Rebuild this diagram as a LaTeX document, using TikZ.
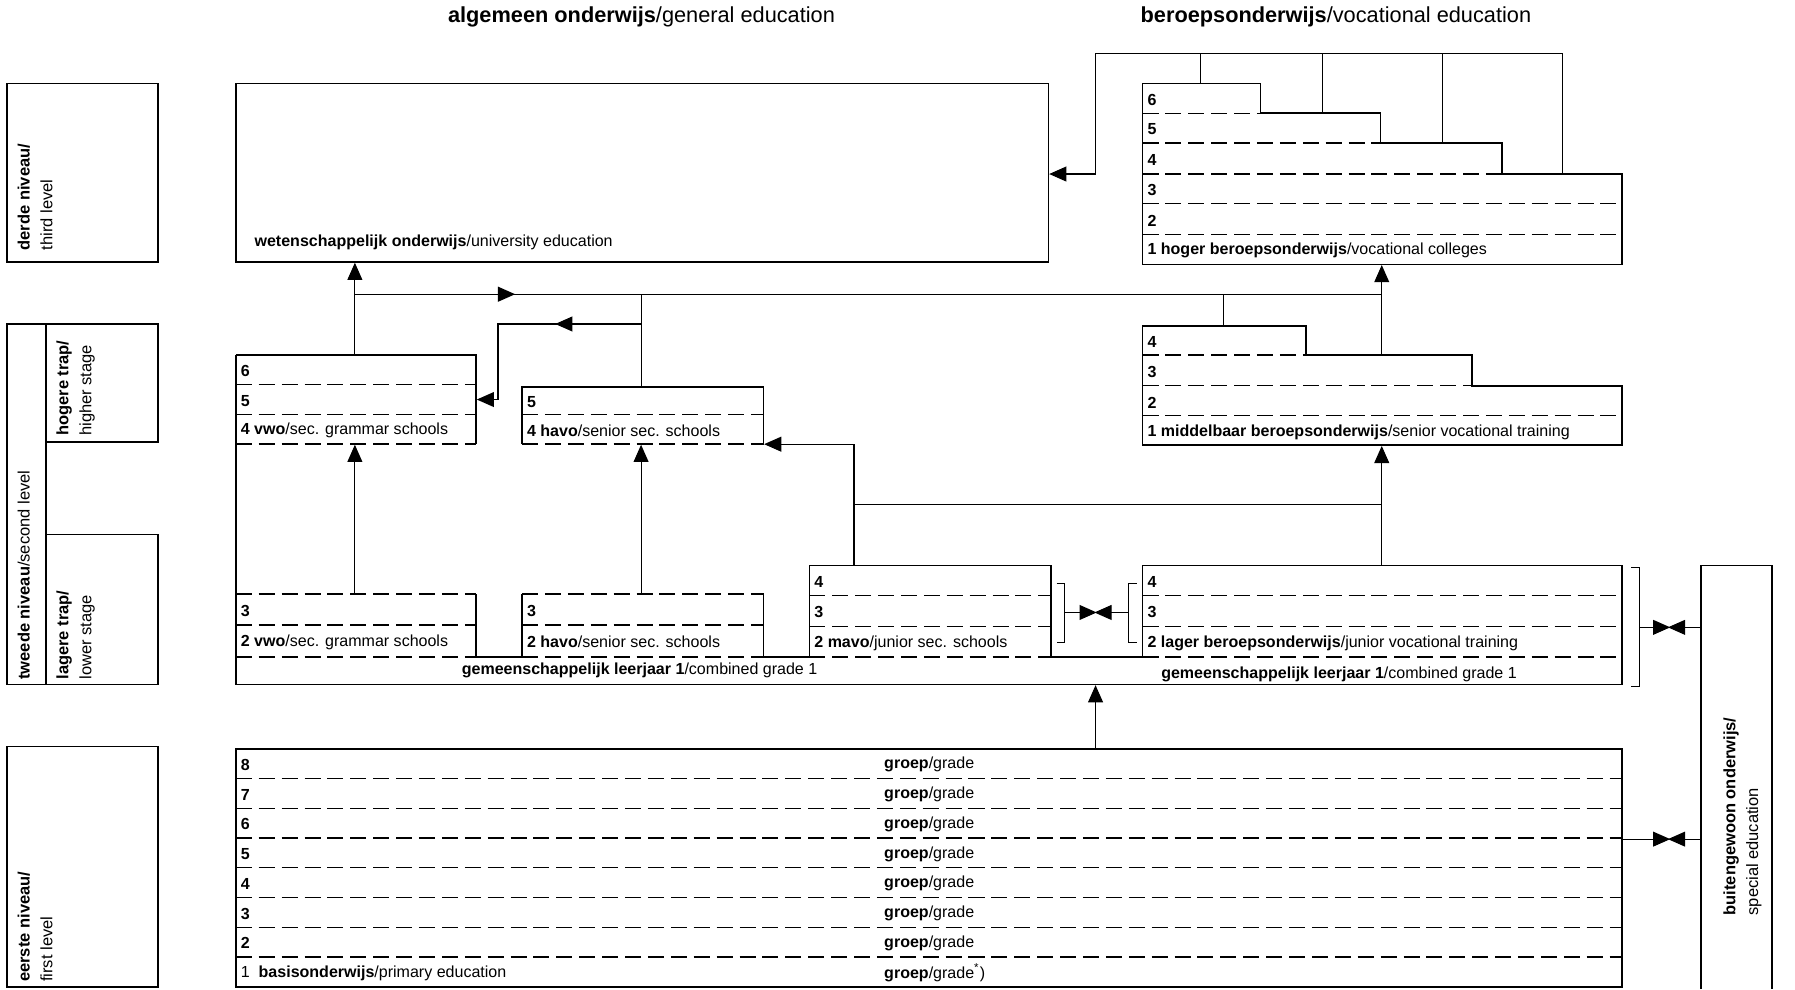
\documentclass[tikz,border=0pt]{standalone}
\usepackage{fontspec}
\setmainfont{Liberation Sans}
\usetikzlibrary{arrows.meta}
\begin{document}
\begin{tikzpicture}[x=0.5pt,y=-0.5pt,
  frame/.style={line width=0.75pt},
  dsh/.style={line width=0.6pt,dash pattern=on 7pt off 3pt},
  conn/.style={line width=0.5pt},
  arr/.style={conn,-{Triangle[length=7.5pt,width=6.5pt]}},
  lbl/.style={anchor=west,inner sep=0pt,font=\fontsize{7}{8}\selectfont},
  ttl/.style={anchor=west,inner sep=0pt,font=\fontsize{9.5}{11}\selectfont},
  rot/.style={rotate=90,anchor=north west,inner sep=0pt,align=left,font=\fontsize{7.2}{10}\selectfont}
]
\useasboundingbox (0,0) rectangle (1568,864);

% titles
\node[ttl] (t1) at (391,15) {\textbf{algemeen onderwijs}/general education};
\node[ttl] (t2) at (996,15) {\textbf{beroepsonderwijs}/vocational education};

% left column
\draw[frame] (6,73) rectangle (138,229);
\node[rot] (l3) at (15,219) {\textbf{derde niveau/}\\third level};
\draw[frame] (40,386) -- (138,386) -- (138,283) -- (6,283) -- (6,598) -- (138,598) -- (138,467) -- (40,467);
\draw[frame] (40,283) -- (40,598);
\node[rot] (l2) at (15,594) {\textbf{tweede niveau}/second level};
\node[rot] (l2a) at (49,381) {\textbf{hogere trap/}\\higher stage};
\node[rot] (l2b) at (49,594) {\textbf{lagere trap/}\\lower stage};
\draw[frame] (6,652) rectangle (138,862);
\node[rot] (l1) at (15,858) {\textbf{eerste niveau/}\\first level};

% university
\draw[frame] (206,73) rectangle (916,229);
\node[lbl] (wo) at (222,212) {\textbf{wetenschappelijk onderwijs}/university education};

% hbo staircase
\draw[frame] (998,73) -- (1101,73) -- (1101,99) -- (1206,99) -- (1206,125) -- (1312,125) -- (1312,152) -- (1417,152) -- (1417,231) -- (998,231) -- cycle;
\draw[dsh] (998,99) -- (1101,99);
\draw[dsh] (998,125) -- (1206,125);
\draw[dsh] (998,152) -- (1312,152);
\draw[dsh] (998,178) -- (1417,178);
\draw[dsh] (998,205) -- (1417,205);
\node[lbl] (h6) at (1002,87) {\textbf{6}};
\node[lbl] (h5) at (1002,113) {\textbf{5}};
\node[lbl] (h4) at (1002,140) {\textbf{4}};
\node[lbl] (h3) at (1002,166) {\textbf{3}};
\node[lbl] (h2) at (1002,193) {\textbf{2}};
\node[lbl] (h1) at (1002,219) {\textbf{1 hoger beroepsonderwijs}/vocational colleges};

% hbo top connectors
\coordinate (c1) at (1049,47); \coordinate (c2) at (1155,47);
\coordinate (c3) at (1260,47); \coordinate (c4) at (1365,47);
\coordinate (c0) at (957,47);
\draw[conn] (1049,73) -- (c1);
\draw[conn] (1155,99) -- (c2);
\draw[conn] (1260,125) -- (c3);
\draw[conn] (1365,152) -- (c4) -- (c0) -- (957,152);
\draw[arr] (957,152) -- (916.5,152);

% mbo staircase
\draw[frame] (998,285) -- (1141,285) -- (1141,310) -- (1286,310) -- (1286,337) -- (1417,337) -- (1417,389) -- (998,389) -- cycle;
\draw[dsh] (998,310) -- (1141,310);
\draw[dsh] (998,337) -- (1286,337);
\draw[dsh] (998,363) -- (1417,363);
\node[lbl] (m4) at (1002,299) {\textbf{4}};
\node[lbl] (m3) at (1002,325) {\textbf{3}};
\node[lbl] (m2) at (1002,352) {\textbf{2}};
\node[lbl] (m1) at (1002,378) {\textbf{1 middelbaar beroepsonderwijs}/senior vocational training};

% general education blocks
\draw[frame] (206,310) -- (206,598) -- (1417,598) -- (1417,494) -- (998,494) -- (998,574) -- (918,574) -- (918,494) -- (707,494) -- (707,574) -- (667,574) -- (667,519);
\draw[frame] (456,519) -- (456,574) -- (416,574) -- (416,519);
\draw[frame] (206,310) -- (416,310) -- (416,388);
\draw[frame] (456,388) -- (456,338) -- (667,338) -- (667,388);
\draw[dsh] (206,336) -- (416,336);
\draw[dsh] (206,362) -- (416,362);
\draw[dsh] (206,388) -- (416,388);
\draw[dsh] (456,362) -- (667,362);
\draw[dsh] (456,388) -- (667,388);
\draw[dsh] (206,519) -- (416,519);
\draw[dsh] (456,519) -- (667,519);
\foreach \y in {546,574} {
  \draw[dsh] (206,\y) -- (416,\y);
  \draw[dsh] (456,\y) -- (667,\y);
}
\foreach \y in {520,547,574} {
  \draw[dsh] (707,\y) -- (918,\y);
  \draw[dsh] (998,\y) -- (1417,\y);
}
\node[lbl] (v6) at (210,324) {\textbf{6}};
\node[lbl] (v5) at (210,350) {\textbf{5}};
\node[lbl] (v4) at (210,376) {\textbf{4 vwo}/sec. grammar schools};
\node[lbl] (a5) at (460,351) {\textbf{5}};
\node[lbl] (a4) at (460,376) {\textbf{4 havo}/senior sec. schools};
\node[lbl] (v3) at (210,534) {\textbf{3}};
\node[lbl] (v2) at (210,561) {\textbf{2 vwo}/sec. grammar schools};
\node[lbl] (a3) at (460,534) {\textbf{3}};
\node[lbl] (a2) at (460,561) {\textbf{2 havo}/senior sec. schools};
\node[lbl] (k4) at (711,508) {\textbf{4}};
\node[lbl] (k3) at (711,535) {\textbf{3}};
\node[lbl] (k2) at (711,562) {\textbf{2 mavo}/junior sec. schools};
\node[lbl] (b4) at (1002,508) {\textbf{4}};
\node[lbl] (b3) at (1002,535) {\textbf{3}};
\node[lbl] (b2) at (1002,562) {\textbf{2 lager beroepsonderwijs}/junior vocational training};
\node[lbl] (g1) at (403,586) {\textbf{gemeenschappelijk leerjaar 1}/combined grade 1};
\node[lbl] (g2) at (1014,589) {\textbf{gemeenschappelijk leerjaar 1}/combined grade 1};

% middle connectors
\draw[arr] (310,310) -- (310,229.5);
\draw[arr] (310,257) -- (450,257);
\draw[conn] (445,257) -- (1207,257);
\draw[conn] (1069,285) -- (1069,257);
\draw[arr] (1207,310) -- (1207,231.5);
\draw[conn] (560,338) -- (560,257);
\draw[arr] (560,283) -- (485,283);
\draw[conn] (490,283) -- (435,283) -- (435,349);
\draw[arr] (435,349) -- (416.5,349);
\draw[arr] (310,519) -- (310,388.5);
\draw[arr] (560,519) -- (560,388.5);
\draw[conn] (746,494) -- (746,388);
\draw[arr] (746,388) -- (667.5,388);
\draw[conn] (746,441) -- (1207,441);
\draw[arr] (1207,494) -- (1207,389.5);

% brackets and double arrows
\draw[conn] (923,510) -- (930,510) -- (930,561) -- (923,561);
\draw[conn] (993,510) -- (986,510) -- (986,561) -- (993,561);
\draw[arr] (930,535) -- (958,535);
\draw[arr] (986,535) -- (956,535);
\draw[conn] (1425,496) -- (1432,496) -- (1432,600) -- (1425,600);
\draw[arr] (1432,548) -- (1459,548);
\draw[arr] (1486,548) -- (1457,548);

% special education
\draw[frame] (1486,864) -- (1486,494) -- (1548,494) -- (1548,864);
\node[rot] (se) at (1505,800) {\textbf{buitengewoon onderwijs/}\\special education};

% primary
\draw[frame] (206,654) rectangle (1417,862);
\foreach \k in {1,...,7} {
  \draw[dsh] (206,{654+26*\k}) -- (1417,{654+26*\k});
}
\foreach \n/\k in {8/0,7/1,6/2,5/3,4/4,3/5,2/6} {
  \node[lbl] (p\n) at (210,{668+26*\k}) {\textbf{\n}};
  \node[lbl] (q\n) at (772,{668+26*\k}) {\textbf{groep}/grade};
}
\node[lbl] (p1) at (210,850) {1\ \ \textbf{basisonderwijs}/primary education};
\node[lbl] (q1) at (772,850) {\textbf{groep}/grade\textsuperscript{*})};
\draw[arr] (957,654) -- (957,598.5);
\draw[arr] (1417,733) -- (1459,733);
\draw[arr] (1486,733) -- (1457,733);
\end{tikzpicture}
\end{document}
